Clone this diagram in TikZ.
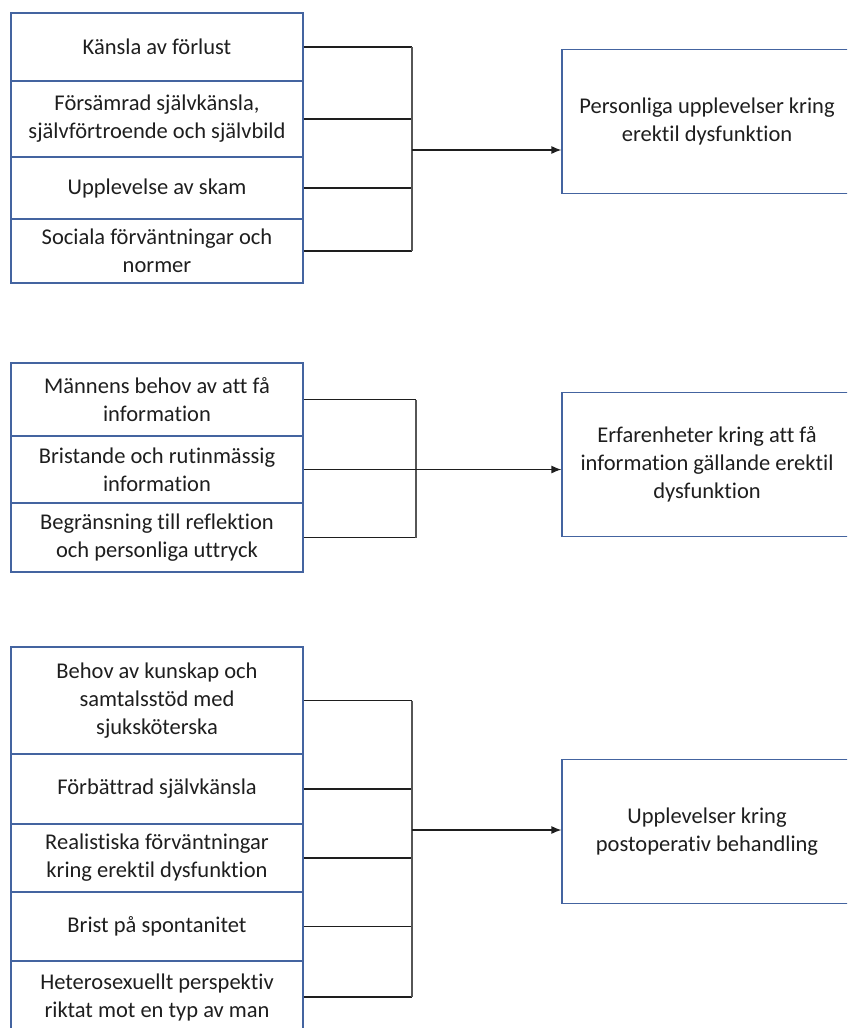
\documentclass[tikz,border=0pt]{standalone}
\usepackage{fontspec}
\setmainfont{Carlito}[Ligatures={NoCommon}]
\usetikzlibrary{arrows.meta}
\definecolor{boxblue}{RGB}{68,100,160}
\definecolor{ink}{RGB}{30,30,30}

\begin{document}
\begin{tikzpicture}[x=1pt,y=-1pt,
	cell/.style={draw=boxblue,line width=1.2pt,minimum width=292pt,inner sep=0pt,align=center,text=ink,font=\fontsize{22.5}{28}\selectfont},
	theme/.style={cell,minimum width=290pt,minimum height=144pt},
	link/.style={draw=ink,line width=1.2pt},
	bus/.style={draw=ink!75,line width=1.6pt},
	arr/.style={link,-{Latex[length=10pt,width=8pt]}}]
	\useasboundingbox (0,0) rectangle (847,1028);
	\clip (0,0) rectangle (847,1028);
	% first group
	\node[cell,minimum height=68pt](k1) at(157,47){Känsla av förlust};
	\node[cell,minimum height=76pt](k2) at(157,119){Försämrad självkänsla,\\självförtroende och självbild};
	\node[cell,minimum height=62pt](k3) at(157,188){Upplevelse av skam};
	\node[cell,minimum height=64pt](k4) at(157,251){Sociala förväntningar och\\normer};
	\node[theme](p1) at(707,121.5){Personliga upplevelser kring\\erektil dysfunktion};
	\coordinate(b1) at(412,0);
	\draw[link](k1.east)--(k1.east-|b1);
	\draw[link](k2.east)--(k2.east-|b1);
	\draw[link](k3.east)--(k3.east-|b1);
	\draw[link](k4.east)--(k4.east-|b1);
	\draw[bus](k1.east-|b1)--(k4.east-|b1);
	\coordinate(j1) at(412,150);
	\draw[arr](j1)--(j1-|p1.west);
	% second group
	\node[cell,minimum height=73pt](m1) at(157,399.5){Männens behov av att få\\information};
	\node[cell,minimum height=67pt](m2) at(157,469.5){Bristande och rutinmässig\\information};
	\node[cell,minimum height=69pt](m3) at(157,537.5){Begränsning till reflektion\\och personliga uttryck};
	\node[theme](p2) at(707,464.5){Erfarenheter kring att få\\information gällande erektil\\dysfunktion};
	\coordinate(b2) at(416,0);
	\draw[link](m1.east)--(m1.east-|b2);
	\draw[link](m3.east)--(m3.east-|b2);
	\draw[bus](m1.east-|b2)--(m3.east-|b2);
	\draw[arr](m2.east)--(m2.east-|p2.west);
	% third group
	\node[cell,minimum height=107pt](u1) at(157,700.5){Behov av kunskap och\\samtalsstöd med\\sjuksköterska};
	\node[cell,minimum height=70pt](u2) at(157,789){Förbättrad självkänsla};
	\node[cell,minimum height=68pt](u3) at(157,858){Realistiska förväntningar\\kring erektil dysfunktion};
	\node[cell,minimum height=69pt](u4) at(157,926.5){Brist på spontanitet};
	\node[cell,minimum height=72pt](u5) at(157,997){Heterosexuellt perspektiv\\riktat mot en typ av man};
	\node[theme](p3) at(707,831.5){Upplevelser kring\\postoperativ behandling};
	\coordinate(b3) at(412,0);
	\draw[link](u1.east)--(u1.east-|b3);
	\draw[link](u2.east)--(u2.east-|b3);
	\draw[link](u3.east)--(u3.east-|b3);
	\draw[link](u4.east)--(u4.east-|b3);
	\draw[link](u5.east)--(u5.east-|b3);
	\draw[bus](u1.east-|b3)--(u5.east-|b3);
	\coordinate(j3) at(412,830);
	\draw[arr](j3)--(j3-|p3.west);
\end{tikzpicture}
\end{document}
